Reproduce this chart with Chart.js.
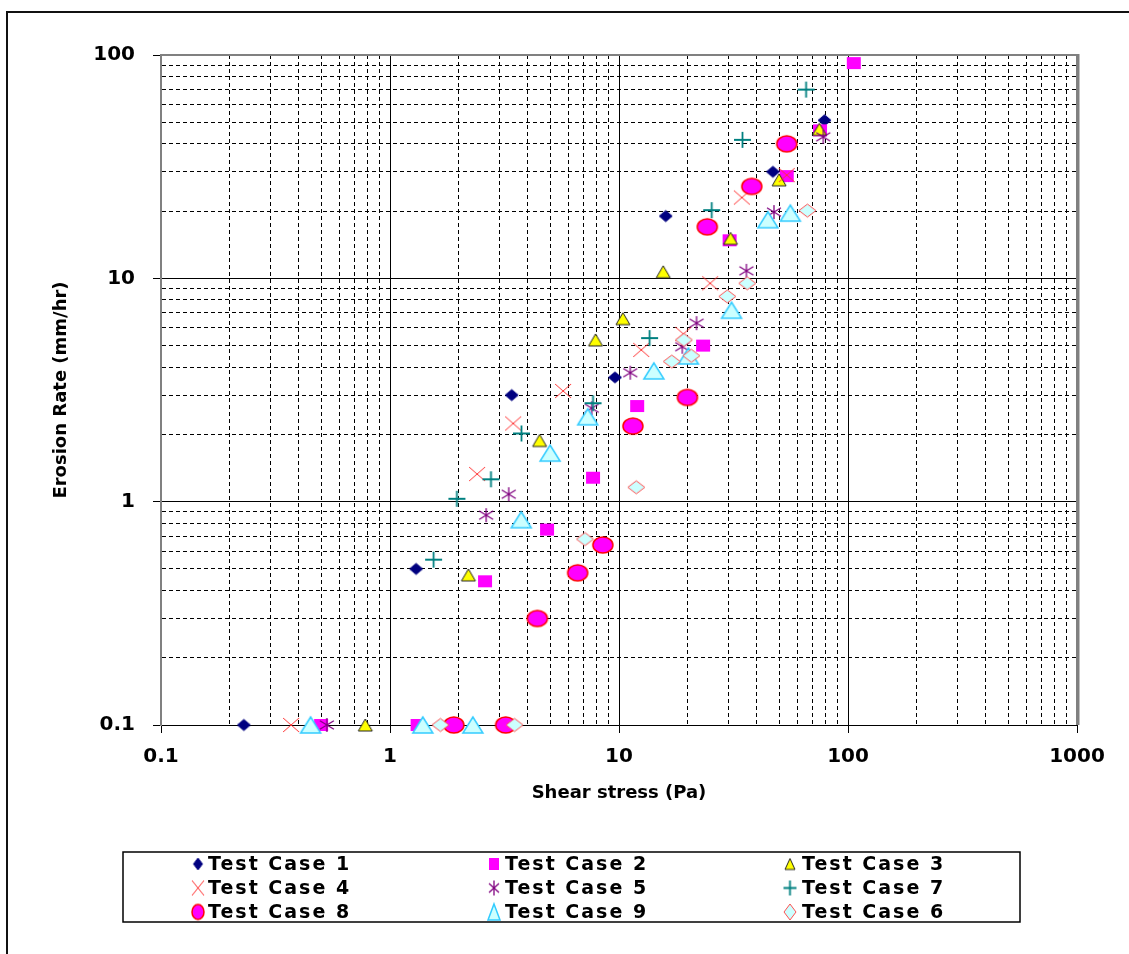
<!DOCTYPE html>
<html>
<head>
<meta charset="utf-8">
<title>Erosion Rate vs Shear stress</title>
<script src="https://cdn.jsdelivr.net/npm/chart.js@4.4.1/dist/chart.umd.min.js"></script>
<style>
  html, body { margin: 0; padding: 0; background: #fff; }
</style>
</head>
<body>
<canvas id="chart" width="1129" height="954"></canvas>
<script>
// log decades used as labelled ticks, plus the 2..9 minor steps between them
const xTickValues = [0.1, 1, 10, 100, 1000];
const yTickValues = [0.1, 1, 10, 100];
const minorSteps = [2, 3, 4, 5, 6, 7, 8, 9];

// series names in legend order (row by row)
const seriesNames = ['Test Case 1', 'Test Case 2', 'Test Case 3',
                     'Test Case 4', 'Test Case 5', 'Test Case 7',
                     'Test Case 8', 'Test Case 9', 'Test Case 6'];

// shear stress (Pa) / erosion rate (mm/hr)
const tc1Shear = [0.23, 1.3, 3.4, 9.6, 16, 47, 79];
const tc1Rate  = [0.1, 0.5, 3.0, 3.6, 19, 30, 51];

const tc2Shear = [0.5, 1.32, 2.6, 4.85, 7.7, 12, 23.3, 30.4, 54, 75.5, 106];
const tc2Rate  = [0.1, 0.1, 0.44, 0.75, 1.28, 2.68, 5.0, 14.8, 28.7, 46, 92];

const tc3Shear = [0.78, 2.2, 4.5, 7.9, 10.4, 15.6, 30.7, 50, 75];
const tc3Rate  = [0.1, 0.47, 1.88, 5.3, 6.6, 10.7, 15.1, 27.6, 46.5];

const tc4Shear = [0.37, 2.4, 3.45, 5.7, 12.5, 19.1, 25, 34.4, 54];
const tc4Rate  = [0.1, 1.33, 2.24, 3.13, 4.78, 5.64, 9.5, 23, 29];

const tc5Shear = [0.53, 2.63, 3.3, 7.6, 11.2, 18.9, 21.8, 36, 47.5, 78];
const tc5Rate  = [0.1, 0.87, 1.08, 2.62, 3.78, 4.94, 6.3, 10.8, 19.8, 43];

const tc7Shear = [1.55, 1.96, 2.76, 3.75, 7.7, 13.6, 25.4, 34.6, 65.6];
const tc7Rate  = [0.55, 1.03, 1.26, 2.02, 2.76, 5.4, 20.2, 41.7, 70];

const tc8Shear = [1.9, 3.2, 4.4, 6.6, 8.5, 11.5, 19.9, 24.3, 38, 54];
const tc8Rate  = [0.1, 0.1, 0.3, 0.48, 0.64, 2.18, 2.93, 17, 25.8, 40];

const tc9Shear = [0.45, 1.39, 2.3, 3.74, 5.0, 7.3, 14.2, 20.1, 31, 44.7, 56];
const tc9Rate  = [0.1, 0.1, 0.1, 0.83, 1.65, 2.4, 3.85, 4.49, 7.2, 18.3, 19.6];

const tc6Shear = [1.66, 3.5, 7.1, 11.9, 17, 19.2, 20.7, 29.7, 36.3, 66.5];
const tc6Rate  = [0.1, 0.1, 0.68, 1.16, 4.24, 5.3, 4.5, 8.3, 9.5, 20.1];

const seriesShear = [tc1Shear, tc2Shear, tc3Shear, tc4Shear, tc5Shear, tc7Shear, tc8Shear, tc9Shear, tc6Shear];
const seriesRate  = [tc1Rate, tc2Rate, tc3Rate, tc4Rate, tc5Rate, tc7Rate, tc8Rate, tc9Rate, tc6Rate];

// marker looks: plot size (w,h), legend size (lw,lh)
const markerStyles = [
  { shape: 'diamond',  w: 13, h: 11, lw: 9,  lh: 12, fill: '#000080', stroke: '#000080', width: 1 },
  { shape: 'square',   w: 14, h: 12, lw: 10, lh: 12, fill: '#ff00ff', stroke: null,      width: 0 },
  { shape: 'triangle', w: 14, h: 12, lw: 10, lh: 11, fill: '#ffff00', stroke: '#222222', width: 1 },
  { shape: 'x',        w: 16, h: 14, lw: 12, lh: 15, fill: null,      stroke: '#ff3333', width: 1 },
  { shape: 'asterisk', w: 14, h: 14, lw: 10, lh: 15, fill: null,      stroke: '#800080', width: 1.3 },
  { shape: 'plus',     w: 17, h: 16, lw: 13, lh: 15, fill: null,      stroke: '#008080', width: 1.8 },
  { shape: 'ellipse',  w: 20, h: 16, lw: 12, lh: 15, fill: '#ff00ff', stroke: '#ff0000', width: 1.5 },
  { shape: 'triangle', w: 20, h: 16, lw: 12, lh: 16, fill: '#ccffff', stroke: '#33ccff', width: 1.5 },
  { shape: 'diamond',  w: 17, h: 13, lw: 12, lh: 16, fill: '#ccffff', stroke: '#ff5050', width: 1 }
];

const FONT = '"DejaVu Sans", Arial, sans-serif';

function makeMarker(shape, w, h, fill, stroke, lw) {
  const pad = Math.ceil(lw) + 1;
  const c = document.createElement('canvas');
  c.width = w + pad * 2;
  c.height = h + pad * 2;
  const g = c.getContext('2d');
  const cx = c.width / 2, cy = c.height / 2, rx = w / 2, ry = h / 2;
  g.lineWidth = lw;
  g.beginPath();
  switch (shape) {
    case 'diamond':
      g.moveTo(cx, cy - ry); g.lineTo(cx + rx, cy); g.lineTo(cx, cy + ry); g.lineTo(cx - rx, cy); g.closePath();
      break;
    case 'square':
      g.rect(cx - rx, cy - ry, w, h);
      break;
    case 'triangle':
      g.moveTo(cx, cy - ry); g.lineTo(cx + rx, cy + ry); g.lineTo(cx - rx, cy + ry); g.closePath();
      break;
    case 'ellipse':
      g.ellipse(cx, cy, rx, ry, 0, 0, Math.PI * 2);
      break;
    case 'x':
      g.moveTo(cx - rx, cy - ry); g.lineTo(cx + rx, cy + ry);
      g.moveTo(cx + rx, cy - ry); g.lineTo(cx - rx, cy + ry);
      break;
    case 'plus':
      g.moveTo(cx - rx, cy); g.lineTo(cx + rx, cy);
      g.moveTo(cx, cy - ry); g.lineTo(cx, cy + ry);
      break;
    case 'asterisk':
      g.moveTo(cx - rx, cy - ry * 0.6); g.lineTo(cx + rx, cy + ry * 0.6);
      g.moveTo(cx + rx, cy - ry * 0.6); g.lineTo(cx - rx, cy + ry * 0.6);
      g.moveTo(cx, cy - ry); g.lineTo(cx, cy + ry);
      break;
  }
  if (fill) { g.fillStyle = fill; g.fill(); }
  if (stroke && lw > 0) { g.strokeStyle = stroke; g.stroke(); }
  return c;
}

const plotMarkers = markerStyles.map(s => makeMarker(s.shape, s.w, s.h, s.fill, s.stroke, s.width));
const legendMarkers = markerStyles.map(s => makeMarker(s.shape, s.lw, s.lh, s.fill, s.stroke, s.width));

function isDecade(v) {
  const l = Math.log10(v);
  return Math.abs(l - Math.round(l)) < 1e-6;
}

function logTicks(decades) {
  const out = [];
  decades.forEach((d, i) => {
    out.push({ value: d, major: true });
    if (i < decades.length - 1) minorSteps.forEach(k => out.push({ value: d * k, major: false }));
  });
  return out;
}

const datasets = seriesNames.map((name, i) => ({
  label: name,
  data: seriesShear[i].map((x, j) => ({ x: x, y: seriesRate[i][j] })),
  pointStyle: plotMarkers[i],
  pointRadius: 9,
  pointBorderWidth: 0,
  showLine: false,
  clip: false,
  order: seriesNames.length - i   // later series drawn on top
}));

// outer frame lines and gray plot border
const framePlugin = {
  id: 'frame',
  beforeDraw(chart) {
    const ctx = chart.ctx;
    ctx.save();
    ctx.fillStyle = '#ffffff';
    ctx.fillRect(0, 0, chart.width, chart.height);
    ctx.strokeStyle = '#111111';
    ctx.lineWidth = 2;
    ctx.beginPath();
    ctx.moveTo(7, chart.height); ctx.lineTo(7, 12); ctx.lineTo(chart.width, 12);
    ctx.stroke();
    ctx.restore();
  },
  beforeDatasetsDraw(chart) {
    const { ctx, chartArea: a } = chart;
    ctx.save();
    ctx.strokeStyle = '#808080';
    ctx.lineWidth = 2;
    ctx.beginPath();
    ctx.moveTo(a.left, a.top); ctx.lineTo(a.right, a.top); ctx.lineTo(a.right, a.bottom);
    ctx.stroke();
    ctx.lineWidth = 3;
    ctx.beginPath();
    ctx.moveTo(a.right + 1, a.top - 1); ctx.lineTo(a.right + 1, a.bottom);
    ctx.stroke();
    ctx.restore();
  }
};

// three-column boxed legend under the axis title
const legendPlugin = {
  id: 'boxLegend',
  afterDraw(chart) {
    const ctx = chart.ctx;
    const box = { left: 123, top: 852, right: 1020, bottom: 922 };
    const colMarker = [198, 494, 790];
    const colText = [208, 505, 802];
    const rowY = [864, 888, 912];
    ctx.save();
    ctx.fillStyle = '#ffffff';
    ctx.fillRect(box.left, box.top, box.right - box.left, box.bottom - box.top);
    ctx.strokeStyle = '#000000';
    ctx.lineWidth = 1.5;
    ctx.strokeRect(box.left, box.top, box.right - box.left, box.bottom - box.top);
    ctx.font = 'bold 19px ' + FONT;
    ctx.fillStyle = '#000000';
    ctx.textBaseline = 'middle';
    ctx.textAlign = 'left';
    if ('letterSpacing' in ctx) ctx.letterSpacing = '2px';
    chart.data.datasets.forEach((ds, i) => {
      const r = Math.floor(i / 3), c = i % 3;
      const m = legendMarkers[i];
      ctx.drawImage(m, colMarker[c] - m.width / 2, rowY[r] - m.height / 2);
      ctx.fillText(ds.label, colText[c], rowY[r] + 1);
    });
    ctx.restore();
  }
};

function gridDash(c) {
  return (c.type === 'tick' && c.tick && !isDecade(c.tick.value)) ? [4, 3] : [];
}
function tickColor(c) {
  return (c.tick && isDecade(c.tick.value)) ? '#000000' : 'rgba(0,0,0,0)';
}

new Chart(document.getElementById('chart'), {
  type: 'scatter',
  data: { datasets: datasets },
  plugins: [framePlugin, legendPlugin],
  options: {
    responsive: false,
    animation: false,
    layout: { padding: { top: 55, right: 52, bottom: 149, left: 0 } },
    plugins: {
      legend: { display: false },
      tooltip: { enabled: false }
    },
    scales: {
      x: {
        type: 'logarithmic',
        min: xTickValues[0],
        max: xTickValues[xTickValues.length - 1],
        afterBuildTicks: s => { s.ticks = logTicks(xTickValues); },
        afterFit: s => { s.height = 80; },
        ticks: {
          autoSkip: false,
          maxRotation: 0,
          padding: 12,
          color: '#000',
          font: { family: FONT, size: 20, weight: 'bold' },
          callback: v => xTickValues.indexOf(v) >= 0 ? String(v) : ''
        },
        grid: { color: '#000000', lineWidth: 1, tickLength: 8, tickColor: tickColor },
        border: { display: true, color: '#000000', width: 1, dash: gridDash },
        title: {
          display: true,
          text: 'Shear stress (Pa)',
          color: '#000',
          font: { family: FONT, size: 18, weight: 'bold' },
          padding: { top: 0, bottom: 1 }
        }
      },
      y: {
        type: 'logarithmic',
        min: yTickValues[0],
        max: yTickValues[yTickValues.length - 1],
        afterBuildTicks: s => { s.ticks = logTicks(yTickValues); },
        afterFit: s => { s.width = 161; },
        ticks: {
          autoSkip: false,
          padding: 18,
          color: '#000',
          font: { family: FONT, size: 20, weight: 'bold' },
          callback: v => yTickValues.indexOf(v) >= 0 ? String(v) : ''
        },
        grid: { color: '#000000', lineWidth: 1, tickLength: 8, tickColor: tickColor },
        border: { display: true, color: '#808080', width: 2, dash: gridDash },
        title: {
          display: true,
          text: 'Erosion Rate (mm/hr)',
          color: '#000',
          font: { family: FONT, size: 18, weight: 'bold' },
          padding: { top: 51, bottom: 0 }
        }
      }
    }
  }
});
</script>
</body>
</html>
